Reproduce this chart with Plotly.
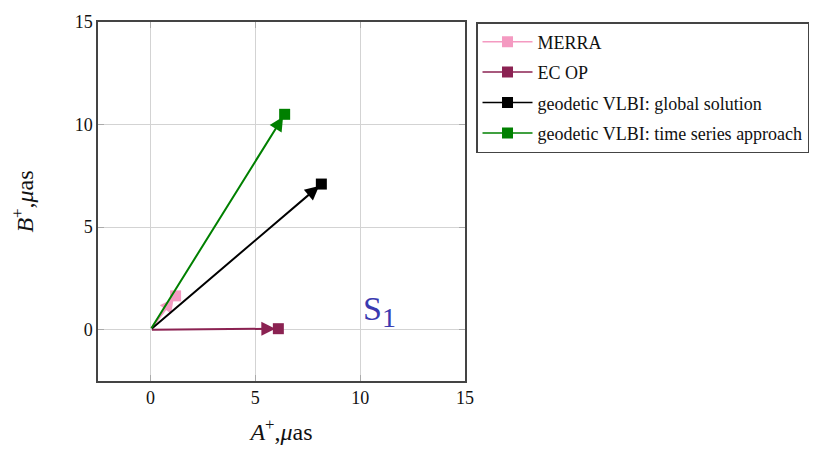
import plotly.graph_objects as go

names = ["MERRA", "EC OP", "geodetic VLBI: global solution", "geodetic VLBI: time series approach"]
a_plus = [1.2, 6.1, 8.15, 6.4]
b_plus = [1.65, 0.05, 7.1, 10.5]
colors = ["#f49ac1", "#8b2252", "#000000", "#008000"]
x_ticks = [0, 5, 10, 15]
y_ticks = [0, 5, 10, 15]

fig = go.Figure()
for i, (n, a, b, c) in enumerate(zip(names, a_plus, b_plus, colors)):
    fig.add_trace(go.Scatter(
        x=[a], y=[b], mode="lines+markers", name=n, legendgroup=f"g{i}",
        marker=dict(symbol="square", size=11, color=c),
        line=dict(color=c, width=1.5),
    ))
    fig.add_annotation(
        x=a, y=b, ax=0, ay=0, xref="x", yref="y", axref="x", ayref="y",
        showarrow=True, arrowhead=2, arrowsize=1.4, arrowwidth=2,
        arrowcolor=c, standoff=3, text="",
    )

fig.add_annotation(x=10.9, y=0.9, xref="x", yref="y",
                   text="S<sub><span style='font-size:28px'>1</span></sub>",
                   showarrow=False, font=dict(family="Liberation Serif", size=34, color="#3a3ab0"))

axis_common = dict(
    showgrid=True, gridcolor="#d3d3d3", gridwidth=1,
    showline=True, linecolor="#444444", linewidth=1.5, mirror="ticks",
    ticks="inside", ticklen=6, tickcolor="#aaaaaa",
    zeroline=False,
    tickfont=dict(family="Liberation Serif", size=18, color="#111111"),
)
fig.update_xaxes(range=[-2.5, 15], tickvals=x_ticks,
                 title=dict(text="<i>A</i><sup>+</sup>,<i>μ</i>as",
                            font=dict(family="Liberation Serif", size=24, color="#111111"), standoff=16),
                 **axis_common)
fig.update_yaxes(range=[-2.5, 15], tickvals=y_ticks,
                 title=dict(text="<i>B</i><sup>+</sup>,<i>μ</i>as",
                            font=dict(family="Liberation Serif", size=24, color="#111111"), standoff=34),
                 **axis_common)

fig.update_layout(
    width=824, height=456,
    margin=dict(l=98, r=359, t=17, b=75),
    plot_bgcolor="white", paper_bgcolor="white",
    showlegend=True,
    legend=dict(x=1.03, y=1.0, xanchor="left", yanchor="top",
                bordercolor="#444444", borderwidth=1.5,
                font=dict(family="Liberation Serif", size=18, color="#111111"),
                tracegroupgap=4, itemwidth=50),
)

fig.write_html("out.html")
